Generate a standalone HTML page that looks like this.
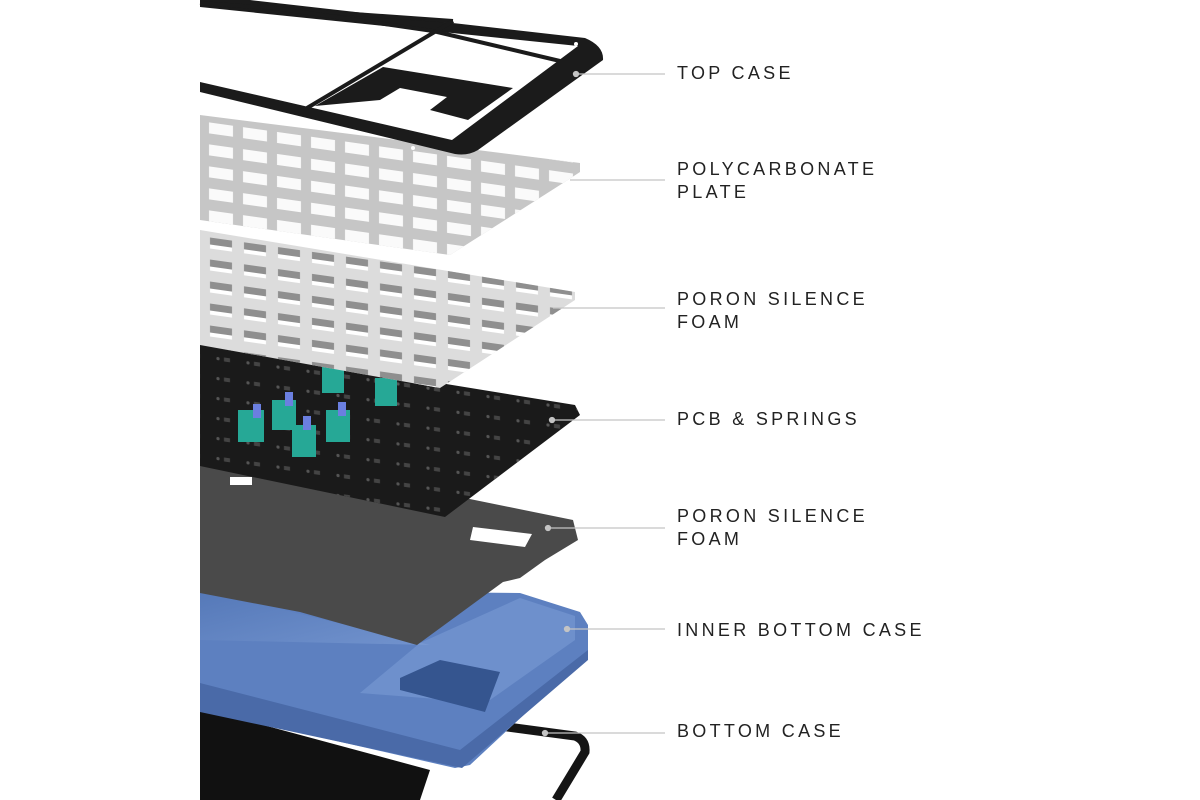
<!DOCTYPE html>
<html><head><meta charset="utf-8"><style>
html,body{margin:0;padding:0;background:#fff;width:1200px;height:800px;overflow:hidden}
.l{position:absolute;left:677px;font-family:"Liberation Sans",sans-serif;font-size:18px;letter-spacing:3.3px;color:#222;line-height:23px}
</style></head><body>
<svg width="1200" height="800" style="position:absolute;left:0;top:0">
<defs>
<linearGradient id="bl" x1="0" y1="0" x2="1" y2="1"><stop offset="0" stop-color="#4f73b3"/><stop offset="1" stop-color="#7f9fd6"/></linearGradient>
<pattern id="ph" width="34" height="22" patternUnits="userSpaceOnUse" patternTransform="skewY(8)">
<rect x="5" y="5" width="24" height="11" fill="#fafafa"/></pattern>
<pattern id="fh" width="34" height="22" patternUnits="userSpaceOnUse" patternTransform="translate(0,4) skewY(8)">
<rect x="6" y="6" width="22" height="7" fill="#8f8f8f"/><rect x="6" y="13" width="22" height="4" fill="#fff"/></pattern>
<pattern id="pc" width="30" height="20" patternUnits="userSpaceOnUse" patternTransform="skewY(8)">
<circle cx="8" cy="8" r="1.6" fill="#555"/><rect x="14" y="6" width="6" height="4" fill="#444"/></pattern>
</defs>
<!-- bottom case -->
<polygon points="200,708 430,770 420,800 200,800" fill="#111"/>
<path d="M470,722 L575,736 Q586,740 585,752 L556,800" fill="none" stroke="#151515" stroke-width="9"/>
<!-- inner bottom case -->
<polygon points="200,590 520,593 580,612 588,625 588,655 470,765 455,768 200,710" fill="#5d80c0"/>
<polygon points="200,683 460,750 588,650 588,660 462,768 200,712" fill="#4a6aa8"/>
<polygon points="360,693 420,643 520,598 575,616 575,640 490,700 450,700" fill="#6e90cc"/>
<polygon points="400,678 440,660 500,672 485,712 400,690" fill="#35558f"/>
<polygon points="200,590 430,645 200,640" fill="url(#bl)" opacity=".6"/>
<!-- foam 2 -->
<polygon points="200,460 460,497 573,520 578,540 545,560 520,578 503,582 417,645 300,612 200,593" fill="#4a4a4a"/>
<polygon points="473,527 532,534 525,547 470,540" fill="#fff"/>
<!-- PCB -->
<polygon points="200,340 440,383 575,405 580,415 445,517 200,466" fill="#1a1a1a"/>
<polygon points="200,340 440,383 575,405 580,415 445,517 200,466" fill="url(#pc)"/>
<rect x="230" y="477" width="22" height="8" fill="#fff"/>
<!-- switches -->
<g fill="#26a896">
<rect x="322" y="365" width="22" height="28"/><rect x="375" y="378" width="22" height="28"/>
<rect x="238" y="410" width="26" height="32"/><rect x="272" y="400" width="24" height="30"/>
<rect x="292" y="425" width="24" height="32"/><rect x="326" y="410" width="24" height="32"/>
</g>
<g fill="#6b7fe0"><rect x="253" y="404" width="8" height="14"/><rect x="285" y="392" width="8" height="14"/><rect x="303" y="416" width="8" height="14"/><rect x="338" y="402" width="8" height="14"/></g>
<!-- foam 1 -->
<polygon points="200,230 575,292 575,300 440,388 200,345" fill="#dcdcdc"/>
<polygon points="200,230 575,292 575,300 440,388 200,345" fill="url(#fh)"/>
<!-- plate -->
<polygon points="200,115 580,163 580,172 560,185 450,255 200,220" fill="#c6c6c6"/>
<polygon points="200,115 580,163 580,172 560,185 450,255 200,220" fill="url(#ph)"/>
<!-- top case -->
<path d="M200,0 L250,0 L585,38 Q604,46 603,60 L478,150 Q468,156 455,154 L200,92 Z M200,7 L578,46 L452,140 L200,82 Z" fill="#1b1b1b" fill-rule="evenodd"/>
<g stroke="#1b1b1b" stroke-width="4" fill="none">
<line x1="200" y1="3" x2="453" y2="21"/>
<line x1="260" y1="6" x2="433" y2="31"/>
<line x1="433" y1="31" x2="560" y2="61"/>
<line x1="453" y1="21" x2="307" y2="108"/>
</g>
<polygon points="383,67 513,88 468,120 430,110 447,97 400,88 380,100 315,106" fill="#1b1b1b"/>
<circle cx="413" cy="148" r="2" fill="#fff"/><circle cx="576" cy="44" r="2" fill="#fff"/>
</svg>
<svg width="1200" height="800" style="position:absolute;left:0;top:0">
<g stroke="#c4c4c4" stroke-width="1.3" fill="#c4c4c4">
<line x1="576" y1="74" x2="665" y2="74"/><circle cx="576" cy="74" r="2.5"/>
<line x1="570" y1="180" x2="665" y2="180"/>
<line x1="553" y1="308" x2="665" y2="308"/>
<line x1="552" y1="420" x2="665" y2="420"/><circle cx="552" cy="420" r="2.5"/>
<line x1="548" y1="528" x2="665" y2="528"/><circle cx="548" cy="528" r="2.5"/>
<line x1="567" y1="629" x2="665" y2="629"/><circle cx="567" cy="629" r="2.5"/>
<line x1="545" y1="733" x2="665" y2="733"/><circle cx="545" cy="733" r="2.5"/>
</g></svg>
<div class="l" style="top:62px">TOP CASE</div>
<div class="l" style="top:158px">POLYCARBONATE<br>PLATE</div>
<div class="l" style="top:288px">PORON SILENCE<br>FOAM</div>
<div class="l" style="top:408px">PCB &amp; SPRINGS</div>
<div class="l" style="top:505px">PORON SILENCE<br>FOAM</div>
<div class="l" style="top:619px">INNER BOTTOM CASE</div>
<div class="l" style="top:720px">BOTTOM CASE</div>
</body></html>
